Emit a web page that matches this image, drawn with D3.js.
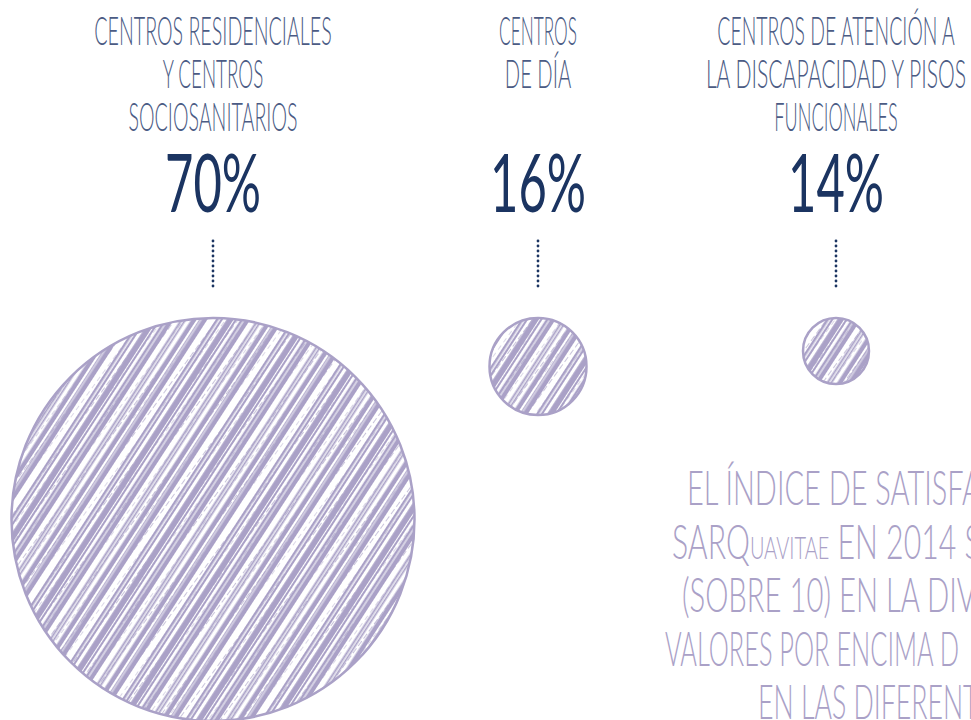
<!DOCTYPE html>
<html>
<head>
<meta charset="utf-8">
<script src="https://cdn.jsdelivr.net/npm/d3@7"></script>
<style>
  body { margin: 0; background: #fff; }
  svg { display: block; }
</style>
</head>
<body>
<div id="chart"></div>
<script>
// data
var categories = ["residenciales", "dia", "discapacidad"];
var titles = [
  ["Centros residenciales", "y centros", "sociosanitarios"],
  ["Centros", "de día"],
  ["Centros de atención a", "la discapacidad y pisos", "funcionales"]
];
var shares = [70, 16, 14];
var noteLines = [
  ["EL ÍNDICE DE SATISFA"],
  ["SARQ", "uavitae", " EN 2014 S"],
  ["(SOBRE 10) EN LA DIV"],
  ["VALORES POR ENCIMA D"],
  ["EN LAS DIFERENT"]
];

var width = 971, height = 720;
var titleColor = "#4b5b84", numColor = "#1b3461", lav = "#aaa1c7";

var svg = d3.select("#chart").append("svg")
  .attr("width", width)
  .attr("height", height);

// x position for each column
var x = d3.scaleOrdinal().domain(categories).range([213, 538, 836]);
// circle radius by share
var r = d3.scaleLinear().domain([14, 16, 70]).range([33, 48.5, 201.5]);

var circleTop = 318;

// scribbled hatching
var defs = svg.append("defs");
var pat = defs.append("pattern")
  .attr("id", "hatch")
  .attr("patternUnits", "userSpaceOnUse")
  .attr("width", 64).attr("height", 64)
  .attr("patternTransform", "rotate(33)");
pat.append("rect").attr("width", 64).attr("height", 64).attr("fill", lav);
[[0, 5.5], [7.5, 1.2], [10.5, 4], [19, 2.2], [22.5, 0.8], [28, 7], [37.5, 1.3], [41, 3.2], [50, 1], [53, 2.8], [58.5, 1]].forEach(function(s) {
  pat.append("rect").attr("x", s[0]).attr("width", s[1]).attr("height", 64).attr("fill", "#fff");
});
var pat2 = defs.append("pattern")
  .attr("id", "hatch2")
  .attr("patternUnits", "userSpaceOnUse")
  .attr("width", 17).attr("height", 9)
  .attr("patternTransform", "rotate(36)");
pat2.append("rect").attr("x", 6).attr("width", 0.9).attr("height", 6).attr("fill", lav).attr("opacity", 0.7);
pat2.append("rect").attr("x", 13).attr("y", 3).attr("width", 0.7).attr("height", 5).attr("fill", lav).attr("opacity", 0.6);

var cols = svg.selectAll("g.col")
  .data(categories.map(function(c, i) { return {key: c, title: titles[i], value: shares[i]}; }))
  .enter().append("g")
  .attr("class", "col");

// titles
cols.each(function(d) {
  var g = d3.select(this);
  d.title.forEach(function(line, j) {
    var t = line.toUpperCase();
    g.append("text")
      .attr("x", x(d.key))
      .attr("y", 45 + j * 43)
      .attr("text-anchor", "middle")
      .attr("font-family", "Lato, 'DejaVu Sans', sans-serif")
      .attr("font-weight", 300)
      .attr("font-size", 39)
      .attr("fill", titleColor)
      .attr("textLength", t.length * 11.4 - 2)
      .attr("lengthAdjust", "spacingAndGlyphs")
      .text(t);
  });
});

// percentages
cols.append("text")
  .attr("x", function(d) { return x(d.key); })
  .attr("y", 212)
  .attr("text-anchor", "middle")
  .attr("font-family", "Lato, 'DejaVu Sans', sans-serif")
  .attr("font-weight", 400)
  .attr("font-size", 82)
  .attr("fill", numColor)
  .attr("textLength", 96)
  .attr("lengthAdjust", "spacingAndGlyphs")
  .text(function(d) { return d.value + "%"; });

// dotted connectors
cols.append("line")
  .attr("x1", function(d) { return x(d.key); })
  .attr("x2", function(d) { return x(d.key); })
  .attr("y1", 241).attr("y2", 291)
  .attr("stroke", numColor)
  .attr("stroke-width", 2.8)
  .attr("stroke-linecap", "round")
  .attr("stroke-dasharray", "0,5");

// circles
cols.append("circle")
  .attr("cx", function(d) { return x(d.key); })
  .attr("cy", function(d) { return circleTop + r(d.value); })
  .attr("r", function(d) { return r(d.value); })
  .attr("fill", "url(#hatch)")
  .attr("stroke", lav)
  .attr("stroke-width", 2.5);
cols.append("circle")
  .attr("cx", function(d) { return x(d.key); })
  .attr("cy", function(d) { return circleTop + r(d.value); })
  .attr("r", function(d) { return r(d.value) - 1; })
  .attr("fill", "url(#hatch2)");

// note text, cut by the page edge
var noteX = [687, 672, 682, 665, 758];
noteLines.forEach(function(parts, i) {
  var full = parts.join("");
  var t = svg.append("text")
    .attr("x", noteX[i])
    .attr("y", 505 + i * 53.5)
    .attr("font-family", "Lato, 'DejaVu Sans', sans-serif")
    .attr("font-weight", 300)
    .attr("font-size", 47)
    .attr("fill", lav)
    .attr("textLength", full.length * 14.7)
    .attr("lengthAdjust", "spacingAndGlyphs");
  parts.forEach(function(p, k) {
    var small = p === "uavitae";
    t.append("tspan")
      .attr("font-size", small ? 31 : 47)
      .text(small ? p.toUpperCase() : p);
  });
});
</script>
</body>
</html>
